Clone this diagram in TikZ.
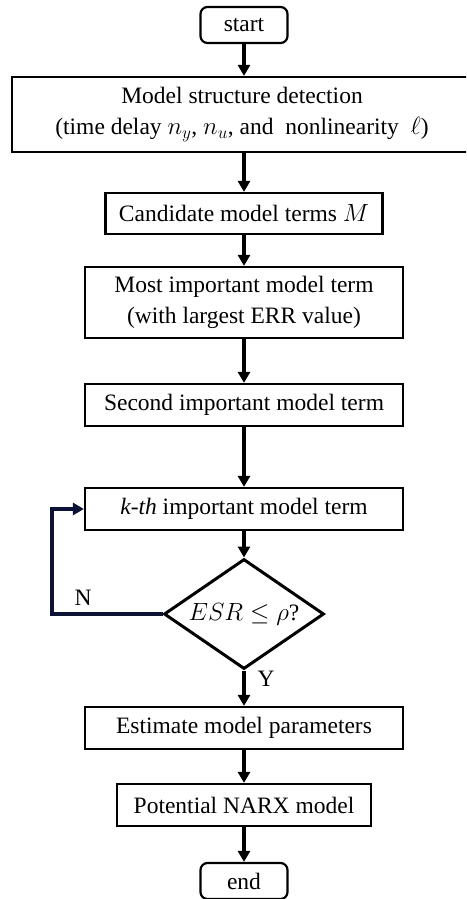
\documentclass[tikz,border=0pt]{standalone}
\usepackage{fontspec}
\setmainfont{Liberation Serif}
\usetikzlibrary{arrows.meta,shapes.geometric}
\definecolor{loopblue}{HTML}{0B1233}
\begin{document}
\begin{tikzpicture}[x=1pt,y=-1pt,
  font=\fontsize{23.5}{31}\selectfont,
  stepbox/.style={draw,line width=2.2pt,inner sep=0pt,align=center},
  termbox/.style={draw,line width=2.2pt,rounded corners=7pt,inner sep=0pt},
  decision/.style={diamond,draw,line width=3pt,inner sep=0pt,minimum width=160pt,minimum height=110pt},
  flow/.style={line width=3.4pt,-{Triangle[length=11pt,width=12pt]}},
  back/.style={line width=3.4pt,draw=loopblue,-{Triangle[length=11pt,width=12pt]}}]
\useasboundingbox (0,0) rectangle (466,899);
\begin{scope}
\clip (0,0) rectangle (466,899);
\node[termbox,minimum width=87pt,minimum height=36pt] (start) at (244,25) {start};
\node[stepbox,minimum width=460pt,minimum height=75pt] (detect) at (242,114.5)
  {Model structure detection\\(time delay $n_y$, $n_u$, and\ \ nonlinearity\ \ $\ell$)};
\node[stepbox,minimum width=277pt,minimum height=41pt] (cand) at (244,213.5)
  {Candidate model terms $M$};
\node[stepbox,minimum width=318pt,minimum height=71pt] (most) at (244,302.5)
  {Most important model term\\(with largest ERR value)};
\node[stepbox,minimum width=318pt,minimum height=42pt] (second) at (244,405)
  {Second important model term};
\node[stepbox,minimum width=318pt,minimum height=42pt] (kth) at (244,509)
  {\textit{k-th} important model term};
% decision shape and its label
\node[decision] (esr) at (244,614) {};
\node (esrtext) at (esr.center) {$ESR\leq\rho$?};
\node[stepbox,minimum width=318pt,minimum height=42pt] (est) at (244,728)
  {Estimate model parameters};
\node[stepbox,minimum width=254pt,minimum height=42pt] (narx) at (244,805)
  {Potential NARX model};
\node[termbox,minimum width=87pt,minimum height=36pt] (end) at (244,881) {end};
\coordinate (lp) at (52,614);
\coordinate (lq) at (52,509);
\draw[flow] (start.south) -- (start.south |- detect.north);
\draw[flow] (start.south |- detect.south) -- (cand.north);
\draw[flow] (cand) -- (most);
\draw[flow] (most) -- (second);
\draw[flow] (second) -- (kth);
\draw[flow] (kth) -- (esr);
\draw[flow] (esr) -- (est);
\draw[flow] (est) -- (narx);
\draw[flow] (narx) -- (end);
\draw[back] (esr.west) -- (lp) -- (lq) -- (kth.west);
\node (nlab) at (83,598) {N};
\node (ylab) at (266,679) {Y};
\end{scope}
\end{tikzpicture}
\end{document}
